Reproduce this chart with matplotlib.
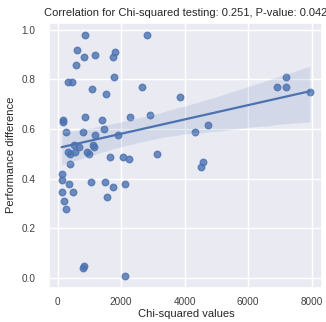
import numpy as np
import pandas as pd
import seaborn as sns
from matplotlib import pyplot as plt

# chi-squared statistic vs. performance difference, one entry per feature set
chi2_vals = [849, 2820, 608, 838, 1185, 1803, 1750, 566, 314, 440,
             1771, 1090, 1520, 2663, 3846, 167, 167, 870, 1384, 2274,
             2893, 252, 797, 1457, 1185, 1897, 503, 660, 1100, 1153,
             314, 377, 535, 922, 975, 1656, 2044, 2254, 3135, 398,
             147, 147, 356, 1048, 1500, 1751, 2107, 126, 482, 1541,
             210, 273, 828, 796, 2107, 4330, 4739, 4582, 4519, 6918,
             7192, 7201, 7947]
perf_diff = [0.980, 0.980, 0.917, 0.889, 0.898, 0.910, 0.889, 0.859, 0.788, 0.788,
             0.810, 0.759, 0.740, 0.770, 0.728, 0.638, 0.629, 0.648, 0.637, 0.648,
             0.658, 0.589, 0.589, 0.600, 0.577, 0.577, 0.537, 0.529, 0.537, 0.529,
             0.506, 0.498, 0.506, 0.506, 0.498, 0.488, 0.488, 0.479, 0.499, 0.459,
             0.419, 0.396, 0.379, 0.388, 0.388, 0.368, 0.379, 0.348, 0.348, 0.327,
             0.308, 0.278, 0.048, 0.039, 0.010, 0.589, 0.617, 0.467, 0.448, 0.769,
             0.810, 0.769, 0.747]

corr_val = 0.251
p_val = 0.042

df = pd.DataFrame({'Chi-squared values': chi2_vals,
                   'Performance difference': perf_diff})

sns.set_theme(style='darkgrid')
plt.rcParams['font.family'] = ['Liberation Sans', 'DejaVu Sans']

fig = plt.figure(figsize=(3.26, 3.22), dpi=100)
ax = fig.add_axes([0.151, 0.107, 0.838, 0.823])
sns.regplot(data=df, x='Chi-squared values', y='Performance difference',
            ax=ax, seed=0, scatter_kws={'s': 22}, line_kws={'lw': 1.6})
ax.set_title(f"Correlation for Chi-squared testing: {corr_val}, P-value: {p_val}",
             fontsize=8.0, pad=5)
ax.set_xlabel('Chi-squared values', fontsize=8.0, labelpad=1)
ax.set_ylabel('Performance difference', fontsize=8.0, labelpad=4)
ax.set_xticks([0, 2000, 4000, 6000, 8000])
ax.set_yticks([0.0, 0.2, 0.4, 0.6, 0.8, 1.0])
ax.tick_params(labelsize=7.2, pad=4, labelcolor='0.25')
ax.tick_params(axis='x', pad=1)
fig.savefig('out.png', dpi=100)
